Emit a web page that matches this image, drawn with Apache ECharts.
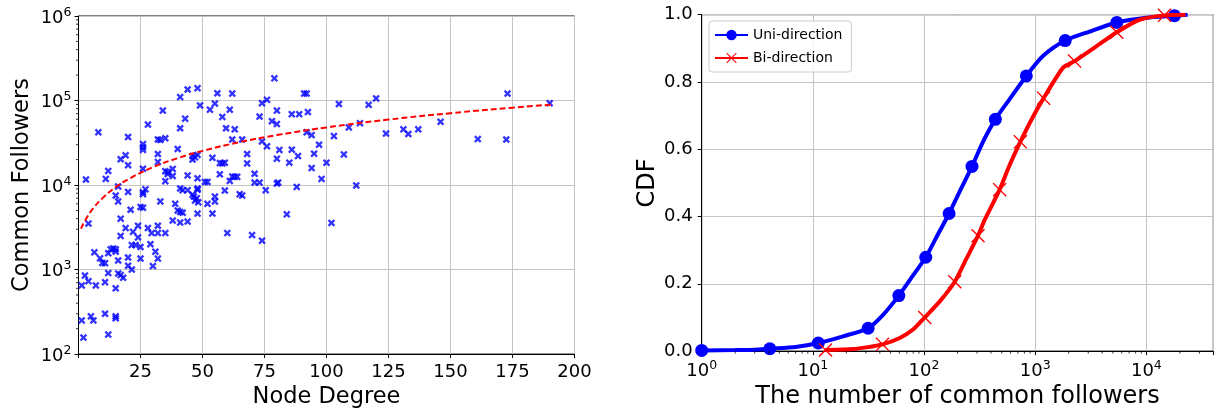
<!DOCTYPE html>
<html>
<head>
<meta charset="utf-8">
<script src="https://cdn.jsdelivr.net/npm/echarts@6/dist/echarts.min.js"></script>
<style>
  html, body { margin: 0; padding: 0; background: #fff; }
  #chart { width: 1221px; height: 414px; }
</style>
</head>
<body>
<div id="chart"></div>
<script>
// ---- Left panel: node degree vs. number of common followers ----
const degree = [
  3, 8, 11, 12, 17, 19, 20, 20, 26, 26, 26, 26, 28, 32, 33, 35, 32, 32, 34, 35,
  36, 38, 36, 38, 35, 40, 41, 41, 43, 44, 44, 46, 46, 47, 48, 48, 48, 49, 51, 52,
  53, 54, 55, 56, 57, 58, 59, 57, 58, 59.5, 61, 62, 62, 61, 62, 63, 64, 63, 66, 68,
  68, 71, 71, 73, 73, 74, 74, 76, 76, 79, 80, 78, 80, 80, 80, 80.5, 81, 75.5, 85, 86,
  89, 86, 88, 88.5, 91, 92, 92.5, 92, 94, 95, 94, 97, 98, 100, 105, 117, 120, 173, 190, 103,
  109, 113.5, 107, 112, 124, 131, 133, 137, 146, 161, 172.5, 84, 102, 70, 74,
  16, 15, 16, 20, 21, 17, 4, 19, 17, 25, 26, 26, 27, 26, 24, 22, 24, 23, 21.5, 25,
  33, 28, 29, 29.5, 32, 32, 35, 31, 32, 30, 25, 39, 38, 40, 41, 42, 41, 44, 41, 42,
  44, 46, 46.5, 48, 48, 47.7, 47, 48.3, 48, 52, 54, 55, 55, 59, 60, 65, 66,
  6.4, 8.7, 9.6, 10.7, 12, 13, 14, 15, 15, 16, 20, 20, 21.5,
  2.6, 1.3, 4, 7, 10.7, 12, 16, 17, 18, 15, 5, 6, 1.3, 10.7, 15, 15, 12, 2
];
const followers = [
  11600, 42000, 11800, 14700, 20200, 22500, 37000, 17200, 30500, 28000, 26000, 15600, 52000, 34600, 34200, 35800, 23300, 18800, 76000, 14600,
  14300, 15500, 13500, 12800, 11100, 26700, 110000, 47000, 61000, 13000, 135000, 22000, 20000, 21300, 22700, 140000, 12000, 87500, 10900, 10900,
  78000, 21000, 92000, 122000, 18200, 18000, 18400, 13400, 64000, 47000, 78000, 121000, 34600, 11200, 12600, 12500, 12500, 45600, 34600, 23300,
  18000, 13600, 10700, 10700, 64600, 93000, 32800, 28700, 102000, 183000, 76000, 57000, 52600, 20500, 10400, 10700, 26000, 8700, 18400, 69000,
  69000, 26200, 9500, 22000, 121000, 121000, 73000, 42000, 39000, 23500, 15900, 30000, 11800, 18400, 91000, 89000, 106000, 121000, 93000, 38000,
  48000, 54000, 23000, 9900, 40600, 45600, 40200, 45600, 56000, 35000, 34600, 4500, 3560, 2560, 2200,
  9600, 7500, 6400, 8300, 5100, 4000, 3500, 3100, 2500, 5500, 5400, 8200, 8900, 7800, 3300, 2800, 2400, 1950, 1950, 1850,
  6400, 3100, 2000, 2700, 3300, 2700, 2700, 1630, 1350, 1100, 1350, 6000, 3800, 5000, 4800, 4700, 3600, 3700, 9100, 8700,
  8700, 7700, 7300, 9100, 8800, 7000, 6550, 6250, 4600, 6000, 4600, 6400, 7300, 8600, 2700, 7800, 7500,
  1600, 1360, 1200, 1190, 1560, 1740, 1780, 1740, 1630, 1280, 1390, 1110, 1000,
  850, 650, 730, 650, 710, 910, 900, 860, 800, 600, 280, 250, 250, 300, 280, 265, 170, 157
];
// Least-squares line (followers against degree), read along the degree range
const fitDegree    = [1, 3, 6, 10, 15, 20, 30, 40, 50, 65, 80, 100, 125, 150, 175, 191];
const fitFollowers = [3050, 3970, 5330, 7150, 9430, 11700, 16250, 20800, 25350, 32180, 39000, 48100, 59480, 70850, 82230, 89500];

// ---- Right panel: CDF of the number of common followers ----
const uniFollowers = [1, 2, 3, 4.1, 7, 11.2, 18.7, 31.4, 42.8, 59.3, 79.7, 103.6, 129, 168, 217, 270, 339, 438, 589, 832, 1173, 1862, 3083, 5420, 9960, 17900, 23500];
const uniCdf       = [0.002, 0.003, 0.004, 0.007, 0.012, 0.024, 0.044, 0.068, 0.108, 0.165, 0.225, 0.279, 0.338, 0.409, 0.485, 0.549, 0.622, 0.689, 0.749, 0.818, 0.877, 0.923, 0.95, 0.977, 0.991, 0.997, 1.0];
const uniMarkerIdx = [0, 3, 5, 7, 9, 11, 13, 15, 17, 19, 21, 23, 25];

const biFollowers  = [13, 23, 30.4, 42.3, 60.5, 79.7, 101.5, 138, 189, 240, 306, 351, 479, 589, 735, 953, 1190, 1774, 2260, 3540, 5420, 8670, 14550, 22500];
const biCdf        = [0.003, 0.006, 0.011, 0.02, 0.039, 0.064, 0.1, 0.147, 0.206, 0.274, 0.343, 0.39, 0.48, 0.553, 0.622, 0.696, 0.752, 0.842, 0.862, 0.906, 0.948, 0.985, 0.998, 1.0];
const biMarkerIdx  = [0, 3, 6, 8, 10, 12, 14, 16, 18, 20, 22];

const seriesNames = ['Uni-direction', 'Bi-direction'];
const degreeTicks = [25, 50, 75, 100, 125, 150, 175, 200];

// ---- styling helpers ----
const FONT = 'DejaVu Sans';
const GRID_COLOR = '#c4c4c4';
const X_THICK = 'path://M0,2.2L2.2,0L5,2.8L7.8,0L10,2.2L7.2,5L10,7.8L7.8,10L5,7.2L2.2,10L0,7.8L2.8,5Z';
const X_THIN  = 'path://M0,0.7L0.7,0L5,4.3L9.3,0L10,0.7L5.7,5L10,9.3L9.3,10L5,5.7L0.7,10L0,9.3L4.3,5Z';

// "10" with a raised exponent, sitting slightly below the tick like mathtext
const powRich = {
  b: { fontFamily: FONT, fontSize: 18, color: '#000', verticalAlign: 'bottom', padding: [4, 0, 0, 0] },
  e: { fontFamily: FONT, fontSize: 12.5, color: '#000', verticalAlign: 'top', padding: [1, 0, 0, 0] }
};
function powLabel(v) {
  const e = Math.log10(v);
  if (Math.abs(e - Math.round(e)) > 1e-6) return '';
  return '{b|10}{e|' + Math.round(e) + '}';
}
function minorLogValues(fromExp, toExp, maxVal) {
  const out = [];
  for (let k = fromExp; k < toExp; k++) {
    for (let m = 2; m <= 9; m++) {
      const v = m * Math.pow(10, k);
      if (v < maxVal) out.push(v);
    }
  }
  return out;
}
function axisBase(titleSize) {
  return {
    axisLine: { show: true, onZero: false, lineStyle: { color: '#000', width: 1 } },
    axisTick: { show: true, inside: false, length: 4, lineStyle: { color: '#000', width: 1 } },
    splitLine: { show: true, lineStyle: { color: GRID_COLOR, width: 1 } },
    nameTextStyle: { fontFamily: FONT, fontSize: titleSize, color: '#000' }
  };
}

function scatterPoints() {
  return degree.map((d, i) => [d, followers[i]]);
}
function linePoints(xs, ys, markIdx) {
  const marks = new Set(markIdx);
  return xs.map((x, i) => marks.has(i) ? { value: [x, ys[i]] } : { value: [x, ys[i]], symbol: 'none' });
}
function minorTickSeries(xAxisIndex, yAxisIndex, values, onY) {
  return {
    type: 'custom',
    xAxisIndex, yAxisIndex,
    silent: true,
    clip: false,
    z: 10,
    data: values.map(v => onY ? [0, v] : [v, 0]),
    renderItem: (params, api) => {
      const p = api.coord([api.value(0), api.value(1)]);
      const shape = onY
        ? { x1: p[0], y1: p[1], x2: p[0] - 2.5, y2: p[1] }
        : { x1: p[0], y1: p[1], x2: p[0], y2: p[1] + 2.5 };
      return { type: 'line', shape, style: { stroke: '#000', lineWidth: 0.8 } };
    }
  };
}

const chart = echarts.init(document.getElementById('chart'), null, { renderer: 'canvas' });
chart.setOption({
  animation: false,
  backgroundColor: '#fff',
  grid: [
    { left: 78.5, top: 16, width: 496, height: 343, show: true, borderColor: '#000', borderWidth: 1, containLabel: false },
    { left: 701.7, top: 14.7, width: 511.6, height: 340.3, show: true, borderColor: '#000', borderWidth: 1, containLabel: false }
  ],
  legend: {
    data: seriesNames,
    orient: 'vertical',
    left: 709,
    top: 21,
    padding: [7, 9, 7, 5],
    itemGap: 9,
    itemWidth: 33,
    itemHeight: 13,
    backgroundColor: 'rgba(255,255,255,0.85)',
    borderColor: '#cccccc',
    borderWidth: 1,
    borderRadius: 3,
    textStyle: { fontFamily: FONT, fontSize: 14, color: '#000' }
  },
  xAxis: [
    Object.assign(axisBase(22.5), {
      gridIndex: 0, type: 'value', min: 0, max: 200, interval: 25,
      name: 'Node Degree', nameLocation: 'middle', nameGap: 30,
      axisLabel: {
        fontFamily: FONT, fontSize: 18, color: '#000', margin: 9,
        formatter: v => degreeTicks.includes(v) ? String(v) : ''
      }
    }),
    Object.assign(axisBase(24), {
      gridIndex: 1, type: 'log', logBase: 10, min: 1, max: 40000,
      name: 'The number of common followers', nameLocation: 'middle', nameGap: 29,
      axisLabel: { margin: 7, formatter: powLabel, rich: powRich }
    })
  ],
  yAxis: [
    Object.assign(axisBase(22.5), {
      gridIndex: 0, type: 'log', logBase: 10, min: 100, max: 1000000,
      name: 'Common Followers', nameLocation: 'middle', nameGap: 45,
      axisLabel: { margin: 7, formatter: powLabel, rich: powRich }
    }),
    Object.assign(axisBase(24), {
      gridIndex: 1, type: 'value', min: 0, max: 1, interval: 0.2,
      name: 'CDF', nameLocation: 'middle', nameGap: 41,
      axisLabel: { fontFamily: FONT, fontSize: 18, color: '#000', margin: 9, formatter: v => v.toFixed(1) }
    })
  ],
  series: [
    {
      name: 'samples',
      type: 'scatter',
      xAxisIndex: 0, yAxisIndex: 0,
      symbol: X_THICK,
      symbolSize: 7.5,
      itemStyle: { color: '#0000ff' },
      data: scatterPoints(),
      z: 3
    },
    {
      name: 'fit',
      type: 'line',
      xAxisIndex: 0, yAxisIndex: 0,
      smooth: true,
      symbol: 'none',
      lineStyle: { color: '#ff0000', width: 2, type: [6, 3] },
      data: fitDegree.map((d, i) => [d, fitFollowers[i]]),
      z: 4
    },
    minorTickSeries(0, 0, minorLogValues(2, 6, 1000000), true),
    {
      name: seriesNames[0],
      type: 'line',
      xAxisIndex: 1, yAxisIndex: 1,
      symbol: 'circle',
      symbolSize: 13,
      showSymbol: true,
      smooth: 0.25,
      lineStyle: { color: '#0000ff', width: 4 },
      itemStyle: { color: '#0000ff' },
      data: linePoints(uniFollowers, uniCdf, uniMarkerIdx),
      z: 5
    },
    {
      name: seriesNames[1],
      type: 'line',
      xAxisIndex: 1, yAxisIndex: 1,
      symbol: X_THIN,
      symbolSize: 14,
      showSymbol: true,
      smooth: 0.2,
      lineStyle: { color: '#ff0000', width: 4 },
      itemStyle: { color: '#ff0000' },
      data: linePoints(biFollowers, biCdf, biMarkerIdx),
      z: 6
    },
    minorTickSeries(1, 1, minorLogValues(0, 5, 40000), false)
  ]
});
</script>
</body>
</html>
